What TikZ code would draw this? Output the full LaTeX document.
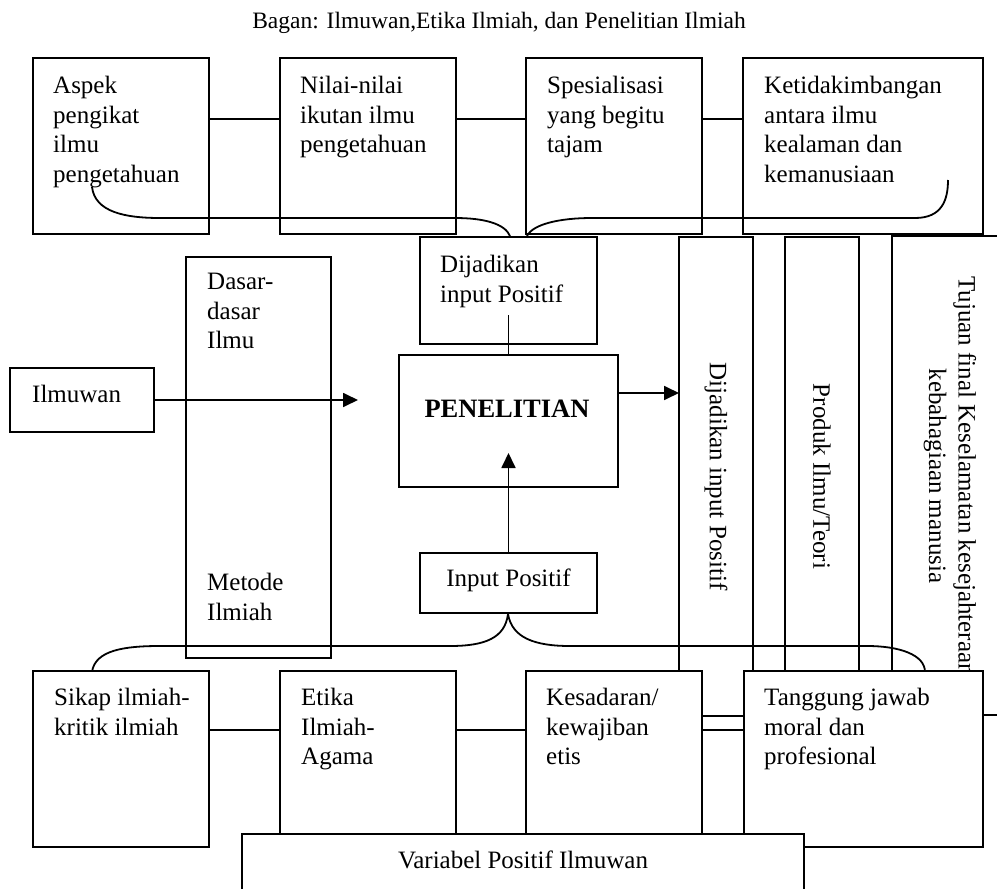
\documentclass[tikz,border=0pt]{standalone}
\usepackage{fontspec}
\setmainfont{Liberation Serif}
\usetikzlibrary{arrows.meta}
\begin{document}
\begin{tikzpicture}[x=1pt,y=-1pt,
 ln/.style={line width=1.8pt},
 box/.style={draw,ln,inner sep=0pt,outer sep=0pt},
 wbox/.style={box,fill=white},
 txt/.style={inner sep=0pt,anchor=north west,align=left,font=\fontsize{25}{29.5}\selectfont},
 ctxt/.style={inner sep=0pt,font=\fontsize{25}{29.5}\selectfont},
 vtxt/.style={inner sep=0pt,align=center,rotate=-90,font=\fontsize{25}{29.5}\selectfont},
 arr/.style={ln,-{Triangle[length=15pt,width=14pt]}}]
\clip (0,0) rectangle (997,889);
\fill[white] (0,0) rectangle (997,889);

% title
\node[inner sep=0pt,anchor=base,font=\fontsize{23.5}{28}\selectfont] (title) at (499,28) {Bagan: Ilmuwan,Etika Ilmiah, dan Penelitian Ilmiah};

% top row
\node[box,minimum width=176pt,minimum height=176pt] (A) at (121,146) {};
\node[txt] (At) at (53,76) {Aspek\\pengikat\\ilmu\\pengetahuan};
\node[box,minimum width=176pt,minimum height=176pt] (B) at (368,146) {};
\node[txt] (Bt) at (300,76) {Nilai-nilai\\ikutan ilmu\\pengetahuan};
\node[box,minimum width=176pt,minimum height=176pt] (C) at (614,146) {};
\node[txt] (Ct) at (547,76) {Spesialisasi\\yang begitu\\tajam};
\node[box,minimum width=240pt,minimum height=176pt] (D) at (863,146) {};
\node[txt] (Dt) at (764,76) {Ketidakimbangan\\antara ilmu\\kealaman dan\\kemanusiaan};
\draw[ln] ([yshift=27pt]A.east) -- ([yshift=27pt]B.west);
\draw[ln] ([yshift=27pt]B.east) -- ([yshift=27pt]C.west);
\draw[ln] ([yshift=27pt]C.east) -- ([yshift=27pt]D.west);

% left side
\node[box,minimum width=145pt,minimum height=401pt] (DS) at (258.5,457.5) {};
\node[txt] (DSt1) at (207,273) {Dasar-\\dasar\\Ilmu};
\node[txt] (DSt2) at (207,573) {Metode\\Ilmiah};
\node[box,minimum width=144pt,minimum height=64pt] (IL) at (82,400) {};
\node[txt,anchor=base west] (ILt) at (32,402) {Ilmuwan};
\coordinate (ILtip) at (358,400);
\draw[arr] (IL.east) -- (ILtip);

% centre
\node[box,minimum width=177pt,minimum height=107pt] (DT) at (508.5,290.5) {};
\node[txt] (DTt) at (440,255) {Dijadikan\\input Positif};
\node[box,minimum width=219pt,minimum height=132pt] (PEN) at (508.5,421) {};
\node[inner sep=0pt,font=\fontsize{26.5}{30}\selectfont\bfseries] (PENt) at (507,409) {PENELITIAN};
\draw[ln] ([yshift=-24.5pt]DT.center) -- (PEN.north);
\node[box,minimum width=177pt,minimum height=60pt] (IP) at (508.5,583) {};
\node[ctxt] (IPt) at (508.5,580) {Input Positif};
\draw[arr] (IP.north) -- ([yshift=-32pt]PEN.center);

% vertical boxes
\node[box,minimum width=74pt,minimum height=479pt] (V1) at (716,476.5) {};
\node[vtxt] (V1t) at (V1.center) {Dijadikan input Positif};
\node[box,minimum width=74pt,minimum height=479pt] (V2) at (822,476.5) {};
\node[vtxt] (V2t) at (V2.center) {Produk Ilmu/Teori};
\node[box,minimum width=148pt,minimum height=479pt] (V3) at (966,475.5) {};
\node[vtxt] (V3t) at (950,476) {Tujuan final Keselamatan kesejahteraan\\kebahagiaan manusia};
\draw[arr] ([yshift=28pt]PEN.east) -- ([yshift=28pt]PEN.east -| V1.west);

% braces
\coordinate (tl) at (92,187);
\coordinate (tm1) at (510,236);
\coordinate (tm2) at (527,236);
\coordinate (tr) at (948,180);
\draw[ln] (tl) .. controls (95,212) and (125,218) .. (160,218) -- (455,218) .. controls (485,218) and (505,224) .. (tm1);
\draw[ln] (tm2) .. controls (533,224) and (560,218) .. (592,218) -- (915,218) .. controls (942,218) and (948,200) .. (tr);
\coordinate (bl) at (92,672);
\coordinate (bm) at (508,614);
\coordinate (br) at (925,672);
\draw[ln] (bl) .. controls (95,650) and (125,646) .. (160,646) -- (450,646) .. controls (485,646) and (505,638) .. (bm);
\draw[ln] (bm) .. controls (512,638) and (535,646) .. (570,646) -- (867,646) .. controls (900,646) and (925,655) .. (br);

% bottom row
\node[wbox,minimum width=176pt,minimum height=176pt] (SK) at (121,759) {};
\node[txt] (SKt) at (54,688) {Sikap ilmiah-\\kritik ilmiah};
\node[wbox,minimum width=176pt,minimum height=176pt] (ET) at (368,759) {};
\node[txt] (ETt) at (301,688) {Etika\\Ilmiah-\\Agama};
\node[wbox,minimum width=176pt,minimum height=176pt] (KS) at (614,759) {};
\node[txt] (KSt) at (546,688) {Kesadaran/\\kewajiban\\etis};
\node[wbox,minimum width=239pt,minimum height=176pt] (TG) at (863.5,759) {};
\node[txt] (TGt) at (764,688) {Tanggung jawab\\moral dan\\profesional};
\draw[ln] ([yshift=29pt]SK.east) -- ([yshift=29pt]ET.west);
\draw[ln] ([yshift=29pt]ET.east) -- ([yshift=29pt]KS.west);
\draw[ln] ([yshift=29pt]KS.east) -- ([yshift=29pt]TG.west);

\node[wbox,minimum width=562pt,minimum height=66pt] (VB) at (523,867) {};
\node[ctxt,anchor=base] (VBt) at (523,868) {Variabel Positif Ilmuwan};
\end{tikzpicture}
\end{document}
